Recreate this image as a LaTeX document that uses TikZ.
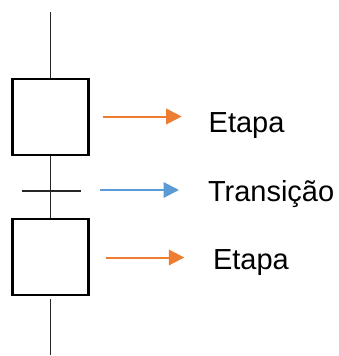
\documentclass[tikz,border=0pt]{standalone}
\usepackage{fontspec}
\setmainfont{Liberation Sans}
\usetikzlibrary{arrows.meta}
\definecolor{stepor}{HTML}{ED7D31}
\definecolor{transbl}{HTML}{5B9BD5}
\begin{document}
\begin{tikzpicture}[x=1pt,y=-1pt,
  stepbox/.style={draw=black,line width=2.3pt,minimum width=76pt,minimum height=76pt,inner sep=0pt},
  link/.style={draw=black!85,line width=1.2pt},
  pointer/.style={line width=2pt,-{Triangle[length=15.5pt,width=15.5pt]}},
  caption/.style={anchor=base west,inner sep=0pt,font=\fontsize{29}{31}\selectfont}]
\useasboundingbox (0,0) rectangle (339,356);
% steps of the chart
\node[stepbox] (s1) at (50.5,117) {};
\node[stepbox] (s2) at (50.5,257) {};
% free ends of the links
\coordinate (top) at (50.5,11.7);
\coordinate (bot1) at (50.5,299);
\coordinate (bot2) at (50.5,355);
\coordinate (tl) at (22,191);
\coordinate (tr) at (80.7,191);
% links and transition bar
\draw[link] (top) -- (s1.north);
\draw[link] (s1.south) -- (s2.north);
\draw[link] (bot1) -- (bot2);
\draw[link] (tl) -- (tr);
% captions
\node[caption] (e1) at (208.5,132.7) {Etapa};
\node[caption] (t1) at (207.8,201.7) {Transição};
\node[caption] (e2) at (212.8,269.3) {Etapa};
% pointers
\coordinate (a1s) at (102.7,116.5);
\coordinate (a1e) at (181.7,116.5);
\coordinate (a2s) at (100,190);
\coordinate (a2e) at (179,190);
\coordinate (a3s) at (106,257.5);
\coordinate (a3e) at (184.3,257.5);
\draw[pointer,stepor] (a1s) -- (a1e);
\draw[pointer,transbl] (a2s) -- (a2e);
\draw[pointer,stepor] (a3s) -- (a3e);
\end{tikzpicture}
\end{document}
